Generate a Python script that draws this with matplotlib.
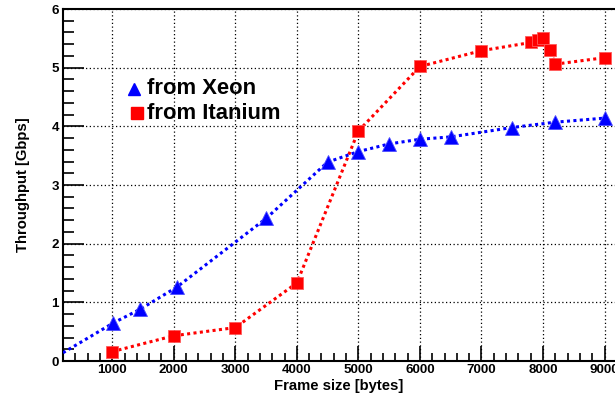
import matplotlib
matplotlib.use("Agg")
import matplotlib.pyplot as plt
from matplotlib.ticker import MultipleLocator, FixedLocator

plt.rcParams['font.family'] = ['Liberation Sans', 'DejaVu Sans']
plt.rcParams['font.weight'] = 'bold'

xeon_x = [200, 1020, 1450, 2050, 3500, 4500, 5000, 5500, 6000, 6500, 7500, 8190, 9000]
xeon_y = [0.14, 0.65, 0.88, 1.26, 2.43, 3.39, 3.57, 3.70, 3.78, 3.82, 3.98, 4.07, 4.14]

itan_x = [1000, 2000, 3000, 4000, 5000, 6000, 7000, 7810, 7920, 8000, 8110, 8200, 9000]
itan_y = [0.16, 0.43, 0.57, 1.33, 3.92, 5.02, 5.29, 5.43, 5.47, 5.50, 5.30, 5.06, 5.17]

xticks = [1000, 2000, 3000, 4000, 5000, 6000, 7000, 8000, 9000]
yticks = [0, 1, 2, 3, 4, 5, 6]

fig = plt.figure(figsize=(6.15, 4.0), dpi=100)
ax = fig.add_axes([63/615, 39/400, 1 - 63/615, 352/400])

ls = (0, (1, 1.1))
ax.plot(itan_x, itan_y, color=(1, 0, 0), lw=2.2, ls=ls, zorder=3)
ax.plot(itan_x, itan_y, ls='none', marker='s', ms=8.3, color=(1, 0, 0),
        markeredgecolor=(1, 0.35, 0.35), markeredgewidth=0.6, zorder=4)
ax.plot(xeon_x, xeon_y, color=(0, 0, 1), lw=2.2, ls=ls, zorder=3)
ax.plot(xeon_x[1:], xeon_y[1:], ls='none', marker='^', ms=9.5, color=(0, 0, 1),
        markeredgecolor=(0.3, 0.3, 1), markeredgewidth=0.6, zorder=4)

ax.set_xlim(200, 9170)
ax.set_ylim(0, 6)
ax.xaxis.set_major_locator(FixedLocator(xticks))
ax.xaxis.set_minor_locator(MultipleLocator(200))
ax.yaxis.set_major_locator(FixedLocator(yticks))
ax.yaxis.set_minor_locator(MultipleLocator(0.2))
ax.tick_params(axis='both', which='both', direction='in', top=False, right=False,
               colors='black', labelsize=9.6, width=1.2)
ax.tick_params(axis='x', which='major', length=11, pad=2.5)
ax.tick_params(axis='x', which='minor', length=6)
ax.tick_params(axis='y', which='major', length=15, pad=3)
ax.tick_params(axis='y', which='minor', length=8)
for lab in ax.get_xticklabels() + ax.get_yticklabels():
    lab.set_fontweight('bold')

ax.grid(True, which='major', color='black', ls=(0, (1, 2)), lw=0.9)
ax.set_axisbelow(True)
for s in ['left', 'bottom', 'top']:
    ax.spines[s].set_linewidth(1.5)
ax.spines['right'].set_visible(False)

ax.set_xlabel('Frame size [bytes]', fontsize=10.7, fontweight='bold', labelpad=2)
ax.set_ylabel('Throughput [Gbps]', fontsize=10.7, fontweight='bold', labelpad=15)

# legend
ax.plot([1350], [4.63], ls='none', marker='^', ms=9, color=(0, 0, 1), clip_on=False)
ax.plot([1400], [4.22], ls='none', marker='s', ms=8.3, color=(1, 0, 0), clip_on=False)
ax.text(1570, 4.65, 'from Xeon', fontsize=15.8, fontweight='bold', va='center', ha='left')
ax.text(1570, 4.22, 'from Itanium', fontsize=15.8, fontweight='bold', va='center', ha='left')

fig.savefig('out.png', dpi=100)
